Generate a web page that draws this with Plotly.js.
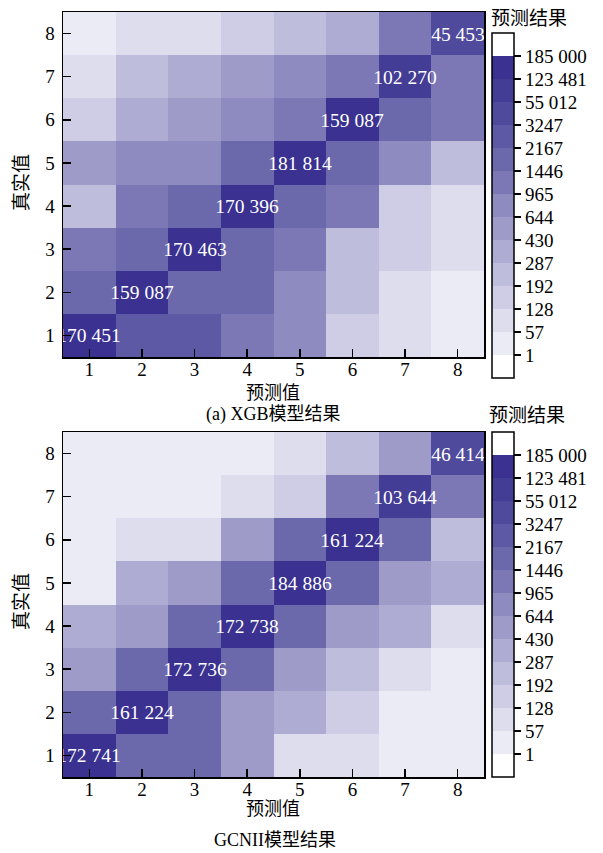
<!DOCTYPE html>
<html>
<head>
<meta charset="utf-8">
<script src="https://cdn.plot.ly/plotly-3.0.1.min.js"></script>
<style>
  html, body { margin: 0; padding: 0; background: #fff; }
  #chart { width: 603px; height: 853px; }
</style>
</head>
<body>
<div id="chart"></div>
<script>
// Class labels (predicted on x, true on y)
const classes = [1, 2, 3, 4, 5, 6, 7, 8];

// Colour-bar bin edges and their labels
const binEdges = [1, 57, 128, 192, 287, 430, 644, 965, 1446, 2167, 3247, 55012, 123481, 185000];

// One colour per bin, lightest (1–57) to darkest (123 481–185 000)
const binColors = ['#ebebf5', '#dedded', '#cfcde5', '#bebddc', '#aeacd3', '#9e9bc9',
                   '#8d8bbf', '#7c78b5', '#6b69ab', '#5d59a4', '#4f4a9c', '#443d95', '#3a3190'];

// Confusion matrix, XGB model: rows = true class 1..8, columns = predicted class 1..8
const xgbCounts = [
  [170451,   2700,   2600,   1200,    800,    160,     90,     20],
  [  1800, 159087,   1750,   1700,    780,    240,     85,     25],
  [  1150,   1850, 170463,   1800,   1100,    230,    150,     80],
  [   250,   1250,   1900, 170396,   1850,   1100,    155,     95],
  [   520,    820,    790,   1750, 181814,   1800,    760,    245],
  [   165,    340,    500,    750,   1150, 159087,   1700,   1200],
  [    95,    235,    330,    540,    780,   1100, 102270,   1150],
  [    30,     85,     90,    150,    240,    360,   1200,  45453]
];

// Confusion matrix, GCNII model
const gcniiCounts = [
  [172741,   1800,   1750,    520,     90,     85,     20,     15],
  [  1850, 161224,   1800,    540,    340,    160,     25,     20],
  [   510,   1900, 172736,   1850,    530,    240,     95,     30],
  [   350,    500,   1800, 172738,   1750,    520,    330,     90],
  [    30,    340,    510,   1800, 184886,   1850,    500,    350],
  [    25,     85,     90,    530,   1700, 161224,   1800,    240],
  [    20,     25,     30,     95,    160,   1150, 103644,   1200],
  [    15,     20,     25,     30,     90,    245,    520,  46414]
];

const W = 603, H = 853;
const SERIF = 'Liberation Serif, Times New Roman, serif';
const CJK = 'Liberation Serif, Noto Sans CJK SC, serif';

// Space-grouped thousands for numbers of five digits and more
function fmt(v) {
  const s = String(v);
  return v >= 10000 ? s.replace(/\B(?=(\d{3})+(?!\d))/g, ' ') : s;
}

// Bin index of a count; cells sit in the middle of their band
function binOf(v) {
  let k = 0;
  for (let i = 0; i < binEdges.length - 1; i++) if (v >= binEdges[i]) k = i;
  return k + 0.5;
}

// Stepped colour scale: white margin, 13 bands, white margin (z from -1 to 14)
const nSteps = binEdges.length + 1;
const colorscale = [[0, '#ffffff'], [1 / nSteps, '#ffffff']];
binColors.forEach((c, k) => {
  colorscale.push([(k + 1) / nSteps, c]);
  colorscale.push([(k + 2) / nSteps, c]);
});
colorscale.push([(nSteps - 1) / nSteps, '#ffffff']);
colorscale.push([1, '#ffffff']);

// pixel helpers
const fx = p => p / W;
const fy = p => 1 - p / H;

function heat(counts, xa, ya, cbTop, cbBottom) {
  return {
    type: 'heatmap',
    x: classes, y: classes,
    z: counts.map(r => r.map(binOf)),
    text: counts.map((r, i) => r.map((v, j) => (i === j ? fmt(v) : ''))),
    texttemplate: '%{text}',
    textfont: { family: SERIF, size: 19.5, color: '#ffffff' },
    hoverinfo: 'skip',
    xaxis: xa, yaxis: ya,
    zmin: -1, zmax: binEdges.length,
    colorscale: colorscale,
    colorbar: {
      x: fx(492), xanchor: 'left', xpad: 0,
      y: fy((cbTop + cbBottom) / 2), yanchor: 'middle', ypad: 0,
      len: cbBottom - cbTop, lenmode: 'pixels',
      thickness: 22, thicknessmode: 'pixels',
      outlinewidth: 1.5, outlinecolor: '#000',
      tickmode: 'array',
      tickvals: binEdges.map((_, i) => i),
      ticktext: binEdges.map(fmt),
      ticks: 'outside', ticklen: 7, tickwidth: 1.2, tickcolor: '#000',
      tickfont: { family: SERIF, size: 19, color: '#000' }
    }
  };
}

const axisBase = {
  range: [0.5, 8.5],
  tickmode: 'array', tickvals: classes, ticktext: classes.map(String),
  showline: true, linewidth: 1.5, linecolor: '#000', mirror: true,
  ticks: 'inside', ticklen: 8, tickwidth: 1.5, tickcolor: '#000',
  tickfont: { family: SERIF, size: 19, color: '#000' },
  showgrid: false, zeroline: false, fixedrange: true
};

const plotX = [fx(63), fx(484)];

const layout = {
  width: W, height: H,
  margin: { l: 0, r: 0, t: 0, b: 0 },
  paper_bgcolor: '#fff', plot_bgcolor: '#fff',
  font: { family: SERIF, color: '#000' },
  xaxis:  Object.assign({}, axisBase, { domain: plotX, anchor: 'y',  ticklabelstandoff: -5 }),
  yaxis:  Object.assign({}, axisBase, { domain: [fy(357), fy(12)], anchor: 'x', ticklabelstandoff: 3 }),
  xaxis2: Object.assign({}, axisBase, { domain: plotX, anchor: 'y2', ticklabelstandoff: -5 }),
  yaxis2: Object.assign({}, axisBase, { domain: [fy(777), fy(432)], anchor: 'x2', ticklabelstandoff: 3 }),
  annotations: [
    { text: '预测值', x: fx(273), y: fy(393), size: 18 },
    { text: '(a) XGB模型结果', x: fx(273), y: fy(414), size: 18 },
    { text: '真实值', x: fx(21), y: fy(183), textangle: -90 },
    { text: '预测结果', x: fx(489), y: fy(18), xanchor: 'left' },
    { text: '预测值', x: fx(273), y: fy(809), size: 18 },
    { text: 'GCNII模型结果', x: fx(275), y: fy(840), size: 18 },
    { text: '真实值', x: fx(21), y: fy(602), textangle: -90 },
    { text: '预测结果', x: fx(487), y: fy(415), xanchor: 'left' }
  ].map(a => {
    const size = a.size || 19;
    delete a.size;
    return Object.assign({
      xref: 'paper', yref: 'paper', showarrow: false,
      xanchor: 'center', yanchor: 'middle',
      font: { family: CJK, size: size, color: '#000' }
    }, a);
  })
};

Plotly.newPlot('chart', [
  heat(xgbCounts, 'x', 'y', 33, 378),
  heat(gcniiCounts, 'x2', 'y2', 432, 777)
], layout, { staticPlot: true, displayModeBar: false });
</script>
</body>
</html>
